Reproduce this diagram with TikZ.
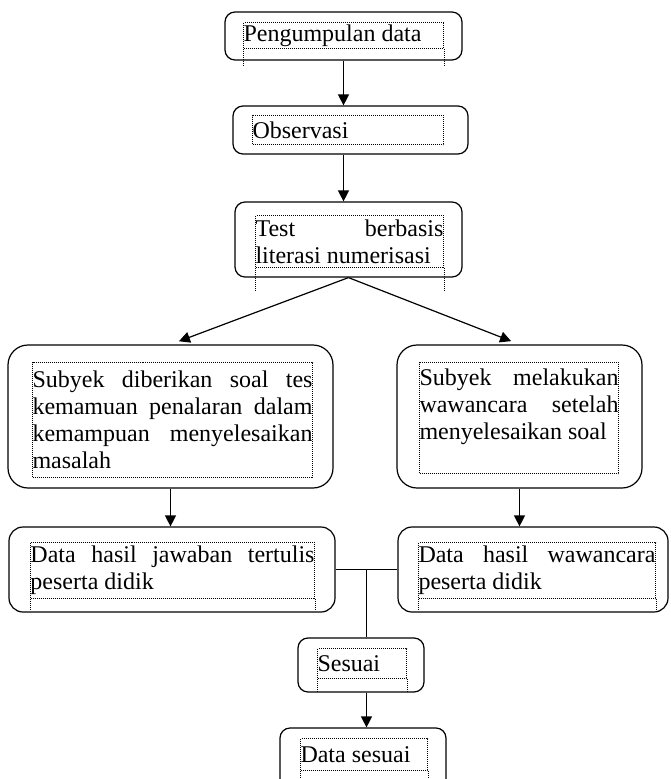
\documentclass[tikz,border=0pt]{standalone}
\usepackage{fontspec}
\setmainfont{Liberation Serif}
\usetikzlibrary{arrows.meta}
\usetikzlibrary{calc}

\begin{document}
\begin{tikzpicture}[x=1pt, y=-1pt,
    box/.style 2 args={draw, rounded corners=10pt, line width=1.2pt, minimum width=#1, minimum height=#2, inner sep=0pt},
    frame/.style 2 args={draw, dash pattern=on 1pt off 1pt, line width=1pt, anchor=north west, inner sep=0pt,
        text width=#1, minimum height=#2, align=justify, font=\fontsize{24}{27}\selectfont},
    tail/.style={dash pattern=on 1pt off 1pt, line width=1pt},
    arr/.style={-{Triangle[length=11pt, width=11pt]}, line width=1.2pt}]
        \useasboundingbox (0,0) rectangle (670,779);

        % Outer boxes
        \node[box={237}{48}] (pd) at (343.5, 36) {};
        \node[box={235}{48}] (ob) at (350.5, 130) {};
        \node[box={227}{75}] (te) at (348.5, 239.5) {};
        \node[box={325}{143}, rounded corners=20pt] (sl) at (170.5, 416.5) {};
        \node[box={245}{143}, rounded corners=20pt] (sr) at (519.5, 416.5) {};
        \node[box={326}{85}, rounded corners=14pt] (dl) at (172, 569.5) {};
        \node[box={270}{85}, rounded corners=14pt] (dr) at (533, 569.5) {};
        \node[box={126}{54}] (se) at (361, 665) {};
        \node[box={166}{72}] (ds) at (363, 764) {};

        % Text frames
        \node[frame={200pt}{26pt}] (fpd) at (243, 22) {Pengumpulan data};
        \node[frame={191pt}{29pt}] (fob) at (252, 115) {Observasi};
        \node[frame={188pt}{52pt}] (fte) at (255, 215) {Test berbasis\linebreak literasi numerisasi};
        \node[frame={280pt}{115pt}] (fsl) at (32, 362) {Subyek diberikan soal tes\linebreak kemamuan penalaran dalam\linebreak kemampuan menyelesaikan\linebreak masalah};
        \node[frame={199pt}{111pt}] (fsr) at (419, 362) {Subyek melakukan\linebreak wawancara setelah\linebreak menyelesaikan soal\par\mbox{}};
        \node[frame={284pt}{56pt}] (fdl) at (30, 542) {Data hasil jawaban tertulis\linebreak peserta didik};
        \node[frame={237pt}{56pt}] (fdr) at (418, 542) {Data hasil wawancara\linebreak peserta didik};
        \node[frame={89pt}{30pt}] (fse) at (317, 648) {Sesuai};
        \node[frame={127pt}{32pt}] (fds) at (300, 738) {Data sesuai};

        % frame edges running on below the text
        \foreach \f/\d in {fpd/17, fte/23, fdl/11, fdr/11, fse/14, fds/12} {
            \draw[tail] (\f.south west) -- ++(0, \d);
            \draw[tail] (\f.south east) -- ++(0, \d);
        }

        \coordinate (mid) at ($(dl.east)!0.5!(dr.west)$);

        \draw[arr] (pd) -- (pd |- ob.north);
        \draw[arr] (ob.south -| pd) -- (te.north -| pd);
        \draw[arr, shorten >=9pt] (te.south) -- (sl.north);
        \draw[arr, shorten >=9pt] (te.south) -- (sr.north);
        \draw[arr] (sl.south) -- (sl.south |- dl.north);
        \draw[arr] (sr.south) -- (sr.south |- dr.north);
        \draw[-, line width=1.2pt] (dl.east) -- (dr.west);
        \draw[-, line width=1.2pt] (mid) -- (mid |- se.north);
        \draw[arr] (mid |- se.south) -- (mid |- ds.north);
    \end{tikzpicture}
\end{document}
